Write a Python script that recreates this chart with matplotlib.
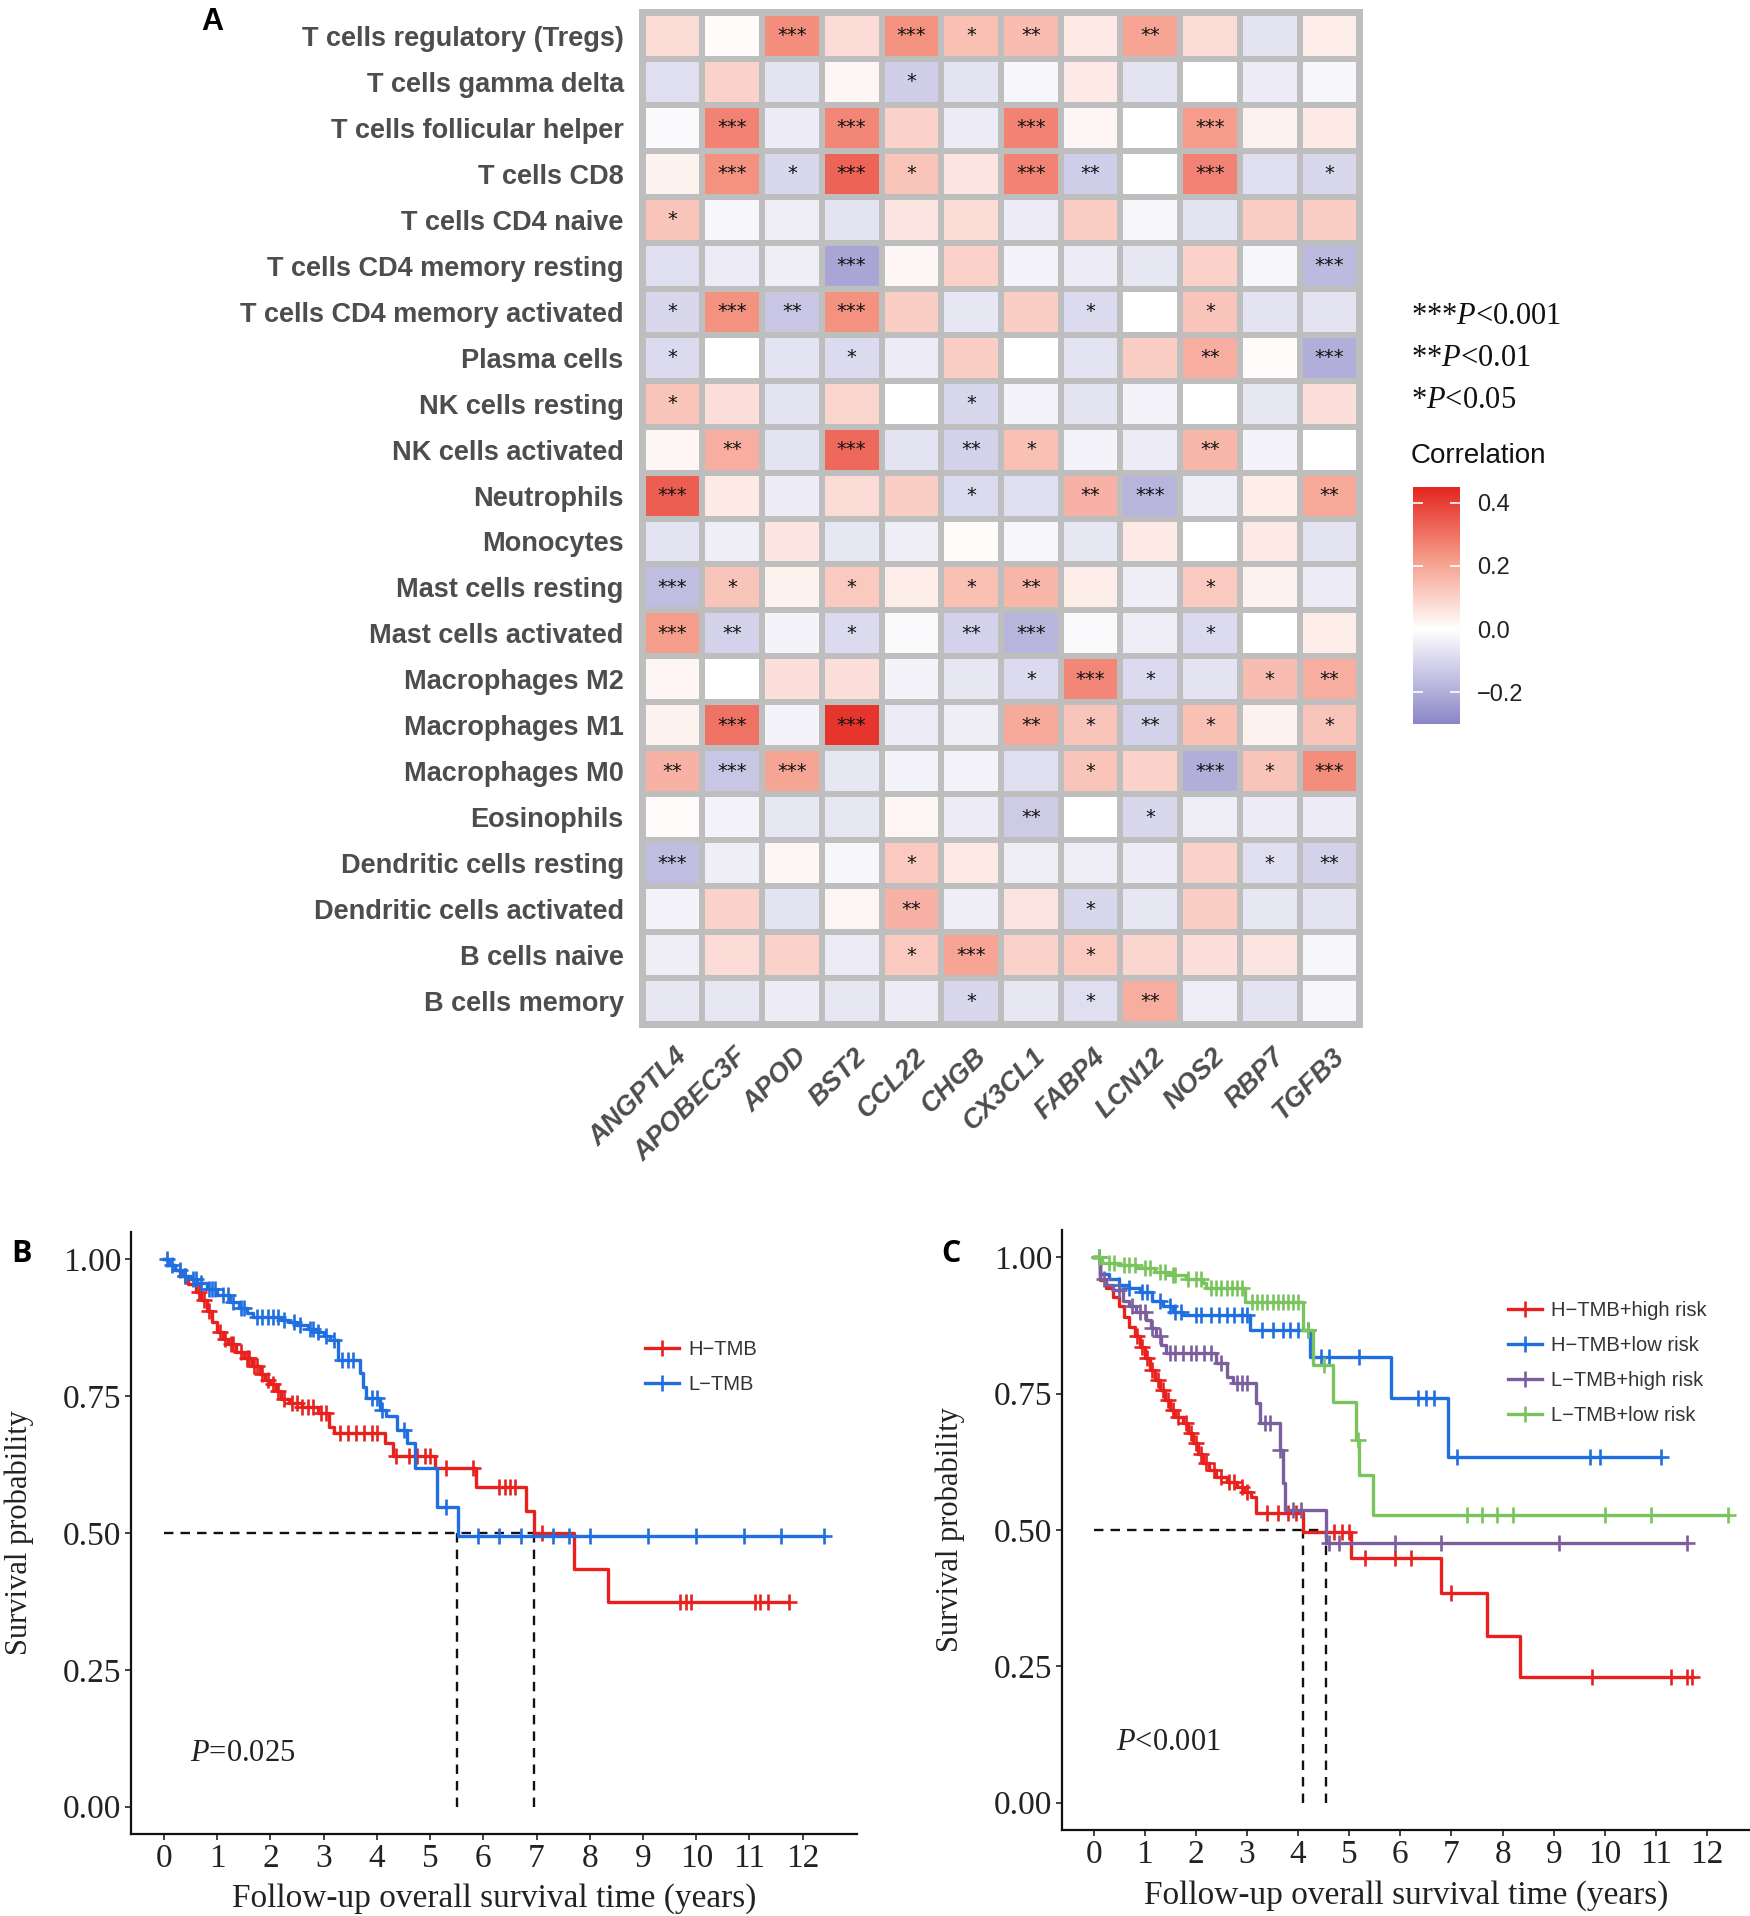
import numpy as np
import matplotlib
matplotlib.use('Agg')
import matplotlib.pyplot as plt
from matplotlib.colors import LinearSegmentedColormap, Normalize
from matplotlib.lines import Line2D
import matplotlib.cm as cm

plt.rcParams['mathtext.fontset'] = 'custom'
plt.rcParams['mathtext.rm'] = 'Liberation Serif'
plt.rcParams['mathtext.it'] = 'Liberation Serif:italic'

# ---------------- DATA ----------------
cell_types = ["T cells regulatory (Tregs)", "T cells gamma delta", "T cells follicular helper",
              "T cells CD8", "T cells CD4 naive", "T cells CD4 memory resting",
              "T cells CD4 memory activated", "Plasma cells", "NK cells resting",
              "NK cells activated", "Neutrophils", "Monocytes", "Mast cells resting",
              "Mast cells activated", "Macrophages M2", "Macrophages M1", "Macrophages M0",
              "Eosinophils", "Dendritic cells resting", "Dendritic cells activated",
              "B cells naive", "B cells memory"]
genes = ["ANGPTL4", "APOBEC3F", "APOD", "BST2", "CCL22", "CHGB", "CX3CL1", "FABP4",
         "LCN12", "NOS2", "RBP7", "TGFB3"]

corr_values = [
    [0.08, 0.01, 0.25, 0.08, 0.24, 0.14, 0.15, 0.05, 0.20, 0.08, -0.07, 0.04],
    [-0.08, 0.10, -0.07, 0.02, -0.12, -0.07, -0.02, 0.05, -0.07, 0.00, -0.05, -0.02],
    [-0.01, 0.27, -0.05, 0.26, 0.10, -0.05, 0.27, 0.02, 0.00, 0.22, 0.03, 0.05],
    [0.03, 0.24, -0.10, 0.33, 0.13, 0.06, 0.27, -0.12, 0.00, 0.27, -0.08, -0.10],
    [0.13, -0.02, -0.04, -0.07, 0.06, 0.08, -0.05, 0.11, -0.02, -0.07, 0.11, 0.11],
    [-0.08, -0.05, -0.04, -0.22, 0.02, 0.10, -0.03, -0.05, -0.06, 0.10, -0.02, -0.17],
    [-0.10, 0.24, -0.14, 0.24, 0.11, -0.06, 0.11, -0.09, 0.00, 0.13, -0.07, -0.07],
    [-0.09, 0.00, -0.07, -0.09, -0.05, 0.11, 0.00, -0.07, 0.11, 0.18, 0.01, -0.20],
    [0.13, 0.07, -0.07, 0.09, 0.00, -0.10, -0.03, -0.07, -0.03, 0.00, -0.06, 0.07],
    [0.02, 0.18, -0.07, 0.32, -0.07, -0.11, 0.14, -0.03, -0.05, 0.16, -0.03, 0.00],
    [0.34, 0.05, -0.05, 0.08, 0.11, -0.09, -0.08, 0.17, -0.18, -0.04, 0.04, 0.19],
    [-0.07, -0.04, 0.06, -0.06, -0.04, 0.01, -0.02, -0.06, 0.05, 0.00, 0.05, -0.07],
    [-0.16, 0.13, 0.03, 0.12, 0.04, 0.14, 0.16, 0.04, -0.04, 0.12, 0.03, -0.05],
    [0.22, -0.11, -0.03, -0.09, -0.01, -0.11, -0.18, -0.01, -0.04, -0.09, 0.00, 0.04],
    [0.02, 0.00, 0.07, 0.07, -0.03, -0.06, -0.09, 0.26, -0.09, -0.07, 0.15, 0.18],
    [0.03, 0.30, -0.03, 0.42, -0.05, -0.04, 0.19, 0.13, -0.11, 0.14, 0.03, 0.13],
    [0.17, -0.14, 0.20, -0.06, -0.03, -0.03, -0.08, 0.13, 0.10, -0.20, 0.13, 0.25],
    [0.01, -0.03, -0.06, -0.06, 0.02, -0.05, -0.13, 0.00, -0.10, -0.04, -0.05, -0.05],
    [-0.16, -0.04, 0.02, -0.02, 0.12, 0.05, -0.04, -0.04, -0.05, 0.10, -0.08, -0.11],
    [-0.03, 0.10, -0.07, 0.02, 0.17, -0.04, 0.06, -0.10, -0.06, 0.11, -0.06, -0.07],
    [-0.04, 0.08, 0.10, -0.05, 0.12, 0.20, 0.10, 0.12, 0.09, 0.07, 0.06, -0.02],
    [-0.06, -0.06, -0.05, -0.06, -0.05, -0.10, -0.06, -0.08, 0.18, -0.04, -0.07, -0.02],
]
sig_stars = [
    [0, 0, 3, 0, 3, 1, 2, 0, 2, 0, 0, 0],
    [0, 0, 0, 0, 1, 0, 0, 0, 0, 0, 0, 0],
    [0, 3, 0, 3, 0, 0, 3, 0, 0, 3, 0, 0],
    [0, 3, 1, 3, 1, 0, 3, 2, 0, 3, 0, 1],
    [1, 0, 0, 0, 0, 0, 0, 0, 0, 0, 0, 0],
    [0, 0, 0, 3, 0, 0, 0, 0, 0, 0, 0, 3],
    [1, 3, 2, 3, 0, 0, 0, 1, 0, 1, 0, 0],
    [1, 0, 0, 1, 0, 0, 0, 0, 0, 2, 0, 3],
    [1, 0, 0, 0, 0, 1, 0, 0, 0, 0, 0, 0],
    [0, 2, 0, 3, 0, 2, 1, 0, 0, 2, 0, 0],
    [3, 0, 0, 0, 0, 1, 0, 2, 3, 0, 0, 2],
    [0, 0, 0, 0, 0, 0, 0, 0, 0, 0, 0, 0],
    [3, 1, 0, 1, 0, 1, 2, 0, 0, 1, 0, 0],
    [3, 2, 0, 1, 0, 2, 3, 0, 0, 1, 0, 0],
    [0, 0, 0, 0, 0, 0, 1, 3, 1, 0, 1, 2],
    [0, 3, 0, 3, 0, 0, 2, 1, 2, 1, 0, 1],
    [2, 3, 3, 0, 0, 0, 0, 1, 0, 3, 1, 3],
    [0, 0, 0, 0, 0, 0, 2, 0, 1, 0, 0, 0],
    [3, 0, 0, 0, 1, 0, 0, 0, 0, 0, 1, 2],
    [0, 0, 0, 0, 2, 0, 0, 1, 0, 0, 0, 0],
    [0, 0, 0, 0, 1, 3, 0, 1, 0, 0, 0, 0],
    [0, 0, 0, 0, 0, 1, 0, 1, 2, 0, 0, 0],
]
cbar_ticks = [-0.2, 0.0, 0.2, 0.4]
cbar_ticklabels = ["\u22120.2", "0.0", "0.2", "0.4"]
sig_legend = ["***", "**", "*"]
sig_thresholds = ["0.001", "0.01", "0.05"]

# Panel B: H-TMB / L-TMB
b_high_t = [0, 0.1, 0.2, 0.3, 0.45, 0.6, 0.7, 0.8, 0.9, 1.0, 1.1, 1.2, 1.35, 1.5, 1.65, 1.8,
            1.9, 2.0, 2.1, 2.2, 2.35, 2.6, 2.9, 3.1, 3.2, 4.15, 4.3, 5.1, 5.87, 6.8, 6.95,
            7.7, 8.35, 11.75]
b_high_s = [1.0, 0.99, 0.98, 0.97, 0.955, 0.94, 0.925, 0.905, 0.885, 0.868, 0.855, 0.845,
            0.83, 0.82, 0.805, 0.79, 0.78, 0.772, 0.76, 0.745, 0.738, 0.73, 0.72, 0.694,
            0.683, 0.664, 0.64, 0.619, 0.584, 0.54, 0.50, 0.435, 0.374, 0.374]
b_high_cens = [0.4, 0.65, 0.75, 0.85, 1.05, 1.15, 1.25, 1.3, 1.45, 1.55, 1.6, 1.7, 1.75,
               1.85, 1.95, 2.05, 2.15, 2.25, 2.4, 2.5, 2.6, 2.7, 2.8, 2.95, 3.05, 3.3, 3.45,
               3.6, 3.75, 3.9, 4.0, 4.35, 4.6, 4.75, 4.9, 5.0, 5.3, 5.8, 6.3, 6.4, 6.5, 6.6,
               7.1, 9.7, 9.8, 9.9, 11.1, 11.2, 11.35, 11.75]
b_low_t = [0, 0.1, 0.2, 0.35, 0.5, 0.62, 0.8, 1.0, 1.24, 1.4, 1.55, 1.68, 2.2, 2.35, 2.5,
           2.7, 2.87, 3.0, 3.12, 3.27, 3.68, 3.74, 3.8, 4.05, 4.18, 4.37, 4.56, 4.72, 5.12,
           5.52, 12.4]
b_low_s = [1.0, 0.99, 0.98, 0.97, 0.965, 0.957, 0.945, 0.935, 0.923, 0.912, 0.902, 0.895,
           0.89, 0.885, 0.88, 0.872, 0.868, 0.86, 0.853, 0.816, 0.792, 0.767, 0.747, 0.725,
           0.713, 0.688, 0.664, 0.619, 0.548, 0.494, 0.494]
b_low_cens = [0.05, 0.15, 0.3, 0.4, 0.55, 0.6, 0.7, 0.85, 0.9, 0.95, 1.1, 1.2, 1.3, 1.45,
              1.5, 1.75, 1.85, 1.95, 2.05, 2.15, 2.25, 2.45, 2.55, 2.75, 2.8, 2.9, 3.05,
              3.2, 3.35, 3.45, 3.55, 3.9, 4.0, 4.1, 4.5, 5.3, 5.9, 6.3, 6.7, 7.3, 7.6, 8.0,
              9.1, 10.0, 10.9, 11.6, 12.4]
b_medians = [5.5, 6.95]
b_labels = ["H\u2212TMB", "L\u2212TMB"]

# Panel C: four groups
c_hh_t = [0, 0.12, 0.25, 0.38, 0.5, 0.6, 0.7, 0.8, 0.9, 1.0, 1.1, 1.2, 1.29, 1.4, 1.49,
          1.6, 1.75, 1.85, 1.94, 2.05, 2.14, 2.25, 2.4, 2.6, 2.8, 2.95, 3.07, 3.17, 4.1,
          5.04, 6.8, 7.7, 8.35, 11.7]
c_hh_s = [1.0, 0.958, 0.943, 0.927, 0.91, 0.89, 0.872, 0.855, 0.835, 0.815, 0.793, 0.775,
          0.757, 0.738, 0.72, 0.708, 0.696, 0.678, 0.66, 0.64, 0.623, 0.61, 0.598, 0.588,
          0.579, 0.57, 0.561, 0.531, 0.497, 0.449, 0.385, 0.305, 0.23, 0.23]
c_hh_cens = [0.85, 0.95, 1.05, 1.15, 1.25, 1.35, 1.45, 1.55, 1.65, 1.8, 1.9, 2.0, 2.1,
             2.2, 2.35, 2.5, 2.65, 2.75, 2.9, 3.0, 3.4, 3.6, 3.8, 3.95, 4.7, 4.85, 5.0, 5.3,
             5.9, 6.2, 7.0, 9.75, 11.3, 11.6, 11.7]
c_hl_t = [0, 0.12, 0.3, 0.5, 0.7, 0.9, 1.15, 1.35, 1.55, 1.75, 3.05, 4.24, 5.82, 6.93, 11.1]
c_hl_s = [1.0, 0.97, 0.96, 0.949, 0.943, 0.937, 0.919, 0.91, 0.9, 0.894, 0.866, 0.817,
          0.742, 0.634, 0.634]
c_hl_cens = [0.1, 0.5, 0.7, 0.95, 1.05, 1.3, 1.5, 1.6, 1.7, 2.0, 2.1, 2.3, 2.45, 2.6,
             2.75, 2.9, 3.0, 3.3, 3.5, 3.7, 3.85, 4.0, 4.2, 4.45, 4.6, 5.2, 6.35, 6.5, 6.65,
             7.1, 9.7, 9.9, 11.1]
c_lh_t = [0, 0.12, 0.25, 0.38, 0.57, 0.7, 0.83, 1.03, 1.12, 1.22, 1.32, 1.42, 2.4, 2.6,
          2.73, 3.18, 3.25, 3.64, 3.7, 3.74, 4.55, 11.6]
c_lh_s = [1.0, 0.96, 0.95, 0.94, 0.92, 0.91, 0.90, 0.885, 0.87, 0.855, 0.84, 0.824, 0.806,
          0.781, 0.769, 0.732, 0.696, 0.646, 0.586, 0.537, 0.476, 0.476]
c_lh_cens = [0.2, 0.5, 0.75, 0.9, 1.0, 1.15, 1.3, 1.5, 1.6, 1.75, 1.9, 2.0, 2.15, 2.3,
             2.5, 2.8, 2.9, 3.0, 3.35, 3.45, 3.65, 3.9, 4.05, 4.6, 4.8, 5.9, 6.8, 9.1, 11.6]
c_ll_t = [0, 0.17, 0.5, 0.83, 1.2, 1.49, 1.8, 2.14, 2.2, 2.96, 4.1, 4.29, 4.68, 5.14,
          5.2, 5.47, 12.4]
c_ll_s = [1.0, 0.99, 0.985, 0.98, 0.973, 0.967, 0.96, 0.952, 0.943, 0.918, 0.866, 0.802,
          0.735, 0.665, 0.60, 0.527, 0.527]
c_ll_cens = [0.1, 0.3, 0.4, 0.6, 0.7, 0.8, 1.0, 1.1, 1.3, 1.4, 1.55, 1.6, 1.85, 2.0, 2.1,
             2.3, 2.4, 2.5, 2.6, 2.7, 2.8, 2.9, 3.1, 3.2, 3.3, 3.4, 3.5, 3.6, 3.7, 3.8,
             3.9, 4.0, 4.2, 4.5, 5.17, 7.3, 7.6, 7.9, 8.2, 10.0, 10.9, 12.4]
c_medians = [4.1, 4.55]
c_labels = ["H\u2212TMB+high risk", "H\u2212TMB+low risk", "L\u2212TMB+high risk",
            "L\u2212TMB+low risk"]

x_ticks = list(range(13))
y_ticks = [0.0, 0.25, 0.5, 0.75, 1.0]
y_ticklabels = ["0.00", "0.25", "0.50", "0.75", "1.00"]

# ---------------- FIGURE ----------------
W, H = 1750, 1916
fig = plt.figure(figsize=(W / 100, H / 100), dpi=100)


def px_axes(l, t, r, b):
    return fig.add_axes([l / W, 1 - b / H, (r - l) / W, (b - t) / H])


LABEL_GREY = '#4D4D4D'
SANS = 'Liberation Sans'
SERIF = 'Liberation Serif'

# ---- Panel A: heatmap ----
cmap = LinearSegmentedColormap.from_list(
    'corr', [(0.0, '#8A86C6'), (0.4, '#FFFFFF'), (0.7, '#F59A88'), (1.0, '#E4261F')])
norm = Normalize(vmin=-0.30, vmax=0.45)

axh = px_axes(639, 9, 1363, 1028)
axh.set_facecolor('#BEBEBE')
data = np.array(corr_values)
nr, nc = data.shape
axh.pcolormesh(np.arange(nc + 1), np.arange(nr + 1), data, cmap=cmap, norm=norm,
               edgecolors='#BEBEBE', linewidth=4.3)
axh.set_xlim(-0.06, nc + 0.06)
axh.set_ylim(nr + 0.08, -0.08)
for sp in axh.spines.values():
    sp.set_visible(False)
axh.set_yticks(np.arange(nr) + 0.5)
axh.set_yticklabels(cell_types, fontsize=19.5, fontweight='bold', family=SANS,
                    color=LABEL_GREY)
axh.set_xticks(np.arange(nc) + 0.5)
axh.set_xticklabels([])
axh.tick_params(axis='both', length=0, pad=11)

for i in range(nr):
    for j in range(nc):
        n = sig_stars[i][j]
        if n:
            axh.text(j + 0.5, i + 0.5, '*' * n, ha='center', va='center',
                     fontsize=14, color='#111111', family='DejaVu Sans')

for j, g in enumerate(genes):
    axh.text(j + 0.53, nr + 0.42, g, rotation=45, ha='right', va='top',
             rotation_mode='anchor', fontsize=19.5, fontweight='bold',
             fontstyle='italic', family=SANS, color=LABEL_GREY)

fig.text(212 / W, 1 - 22 / H, 'A', fontsize=22, fontweight='bold', family=SANS,
         ha='center', va='center')

# significance legend
for k, (st, th) in enumerate(zip(sig_legend, sig_thresholds)):
    fig.text(1411 / W, 1 - (316 + 42 * k) / H, st + r'$\mathit{P}$<' + th,
             fontsize=22, family=SERIF, ha='left', va='center', color='#111111')

fig.text(1411 / W, 1 - 456 / H, 'Correlation', fontsize=20, family=SANS,
         ha='left', va='center', color='#111111')

cax = px_axes(1413, 487, 1460, 724)
sm = cm.ScalarMappable(norm=norm, cmap=cmap)
cb = fig.colorbar(sm, cax=cax, ticks=cbar_ticks)
cb.outline.set_visible(False)
cb.ax.set_yticklabels(cbar_ticklabels)
cb.ax.tick_params(direction='in', length=7, width=1.2, color='white', left=True,
                  right=True, labelsize=17, labelcolor='#222222', pad=12)
for t in cb.ax.get_yticklabels():
    t.set_family(SANS)


# ---- KM helpers ----
def km(ax, t, s, censor, color):
    t = np.asarray(t)
    s = np.asarray(s)
    ax.step(t, s, where='post', color=color, lw=2.4, zorder=3)
    idx = np.searchsorted(t, censor, side='right') - 1
    ax.plot(censor, s[idx], ls='none', marker='+', ms=12, mew=1.9, color=color,
            zorder=3)


def style_km(ax, xmax, ylab_x, xlab_y):
    ax.set_xlim(-0.62, xmax)
    ax.set_ylim(-0.05, 1.05)
    ax.set_xticks(x_ticks)
    ax.set_yticks(y_ticks)
    ax.set_yticklabels(y_ticklabels)
    for sp in ['top', 'right']:
        ax.spines[sp].set_visible(False)
    for sp in ['left', 'bottom']:
        ax.spines[sp].set_linewidth(1.6)
        ax.spines[sp].set_color('#111111')
    ax.tick_params(labelsize=24, length=4, width=1.3, color='#333333',
                   labelcolor='#222222', pad=3)
    for lab in ax.get_xticklabels() + ax.get_yticklabels():
        lab.set_family(SERIF)
    ax.set_xlabel('Follow-up overall survival time (years)', fontsize=24, family=SERIF,
                  color='#222222')
    ax.set_ylabel('Survival probability', fontsize=22, family=SERIF, color='#222222')
    ax.yaxis.set_label_coords(ylab_x, 0.5)
    ax.xaxis.set_label_coords(0.5, xlab_y)


def medians(ax, meds):
    ax.plot([0, max(meds)], [0.5, 0.5], ls='--', dashes=(4, 3), color='#111111',
            lw=1.7, zorder=2)
    for m in meds:
        ax.plot([m, m], [0, 0.5], ls='--', dashes=(4, 3), color='#111111', lw=1.7,
                zorder=2)


RED = '#E8211E'
BLUE = '#1F6FE0'
PURPLE = '#7B5E9E'
GREEN = '#79C45C'

# ---- Panel B ----
axb = px_axes(131, 1232, 857, 1834)
medians(axb, b_medians)
km(axb, b_high_t, b_high_s, b_high_cens, RED)
km(axb, b_low_t, b_low_s, b_low_cens, BLUE)
style_km(axb, 13.02, -0.134, -0.082)
axb.text(0.49, 0.098, r'$\mathit{P}$=0.025', fontsize=22, family=SERIF, ha='left',
         va='center', color='#222222')
hb = [Line2D([], [], color=c, lw=2.4, marker='+', ms=12, mew=1.9) for c in (RED, BLUE)]
leg = axb.legend(hb, b_labels, loc='center left', bbox_to_anchor=(0.683, 0.776),
                 frameon=False, handlelength=1.7, labelspacing=0.8,
                 handletextpad=0.45, prop={'family': SANS, 'size': 14.5})
for t in leg.get_texts():
    t.set_color('#333333')
fig.text(22 / W, 1 - 1254 / H, 'B', fontsize=22, fontweight='bold', family='Open Sans',
         ha='center', va='center')

# ---- Panel C ----
axc = px_axes(1062, 1230, 1750, 1830)
medians(axc, c_medians)
km(axc, c_hh_t, c_hh_s, c_hh_cens, RED)
km(axc, c_hl_t, c_hl_s, c_hl_cens, BLUE)
km(axc, c_lh_t, c_lh_s, c_lh_cens, PURPLE)
km(axc, c_ll_t, c_ll_s, c_ll_cens, GREEN)
style_km(axc, 12.84, -0.141, -0.084)
axc.text(0.43, 0.11, r'$\mathit{P}$<0.001', fontsize=22, family=SERIF, ha='left',
         va='center', color='#222222')
hc = [Line2D([], [], color=c, lw=2.4, marker='+', ms=12, mew=1.9)
      for c in (RED, BLUE, PURPLE, GREEN)]
leg = axc.legend(hc, c_labels, loc='center left', bbox_to_anchor=(0.622, 0.778),
                 frameon=False, handlelength=1.7, labelspacing=0.8,
                 handletextpad=0.45, prop={'family': SANS, 'size': 14.5})
for t in leg.get_texts():
    t.set_color('#333333')
fig.text(951 / W, 1 - 1254 / H, 'C', fontsize=22, fontweight='bold', family='Open Sans',
         ha='center', va='center')

fig.savefig('out.png', dpi=100, facecolor='white')
